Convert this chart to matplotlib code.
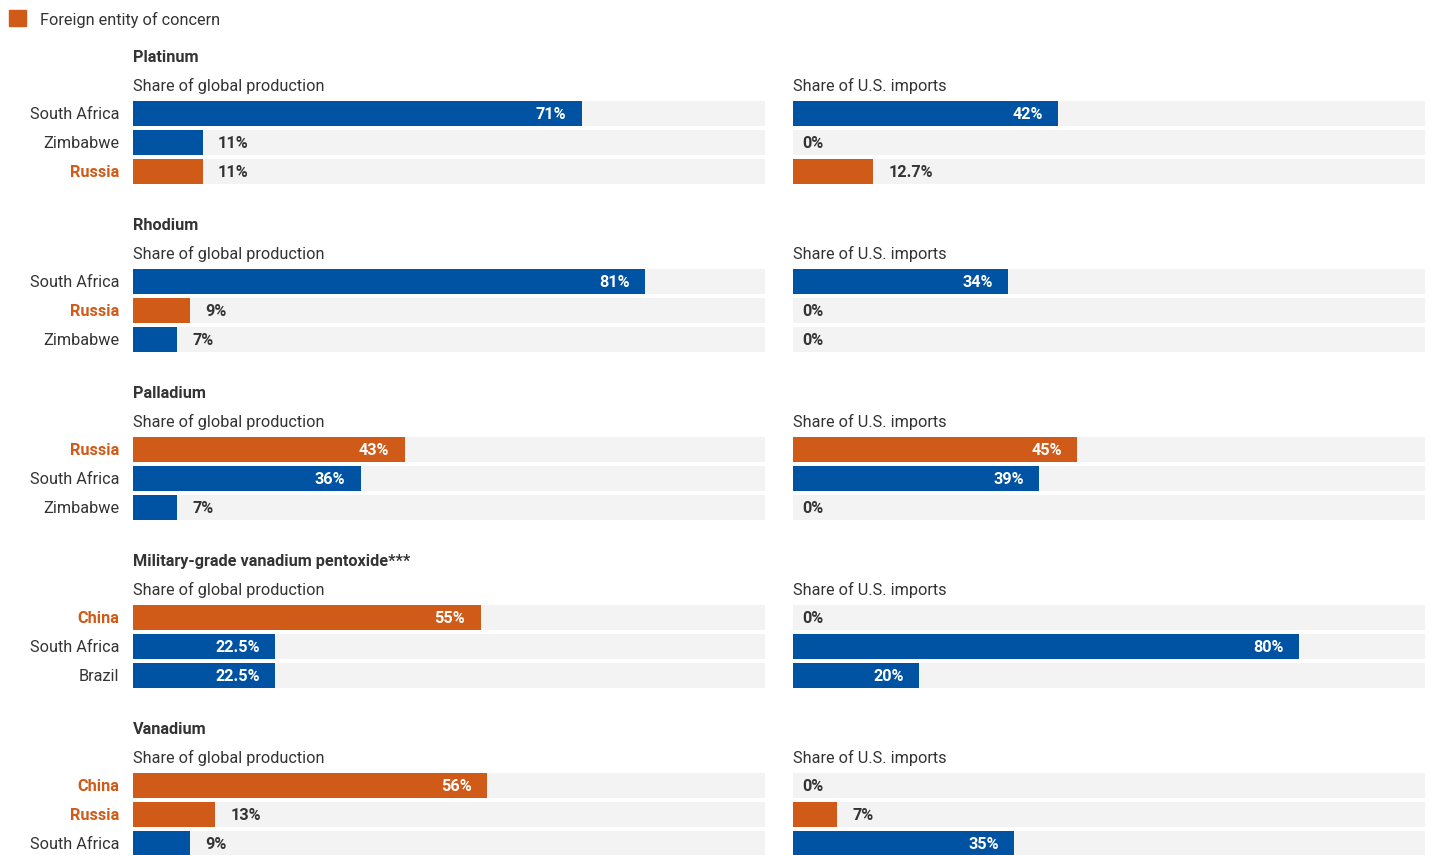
import matplotlib.pyplot as plt
from matplotlib.patches import Rectangle

plt.rcParams['font.family'] = ['Roboto', 'DejaVu Sans']

BLUE = '#0052a3'
ORANGE = '#d05a18'
GRAY = '#f3f3f3'
TEXT = '#333333'
FS = 11.7

minerals = ['Platinum', 'Rhodium', 'Palladium',
            'Military-grade vanadium pentoxide***', 'Vanadium']
countries = [
    ['South Africa', 'Zimbabwe', 'Russia'],
    ['South Africa', 'Russia', 'Zimbabwe'],
    ['Russia', 'South Africa', 'Zimbabwe'],
    ['China', 'South Africa', 'Brazil'],
    ['China', 'Russia', 'South Africa'],
]
global_share = [
    [71, 11, 11],
    [81, 9, 7],
    [43, 36, 7],
    [55, 22.5, 22.5],
    [56, 13, 9],
]
import_share = [
    [42, 0, 12.7],
    [34, 0, 0],
    [45, 39, 0],
    [0, 80, 20],
    [0, 7, 35],
]
feoc = ['Russia', 'China']

W, H = 1430, 855
fig = plt.figure(figsize=(W / 100, H / 100), dpi=100)


def px_axes(x0, y0, w, h):
    return fig.add_axes([x0 / W, 1 - (y0 + h) / H, w / W, h / H])


def draw_panel(ax, names, vals):
    ax.set_xlim(0, 100)
    ax.set_ylim(2.5, -0.5)
    ax.axis('off')
    hgt = 25 / 29
    ys = range(len(vals))
    ax.barh(ys, [100] * len(vals), height=hgt, color=GRAY, zorder=1)
    cols = [ORANGE if n in feoc else BLUE for n in names]
    ax.barh(ys, vals, height=hgt, color=cols, zorder=2)
    for y, v in zip(ys, vals):
        lab = f'{v:g}%'
        if v >= 15:
            ax.annotate(lab, (v, y), xytext=(-11, -1), textcoords='offset points',
                        ha='right', va='center', color='white',
                        fontsize=FS, fontweight='bold', zorder=3)
        elif v == 0:
            ax.annotate(lab, (0, y), xytext=(7, -1), textcoords='offset points',
                        ha='left', va='center', color=TEXT,
                        fontsize=FS, fontweight='bold', zorder=3)
        else:
            ax.annotate(lab, (v, y), xytext=(11, -1), textcoords='offset points',
                        ha='left', va='center', color=TEXT,
                        fontsize=FS, fontweight='bold', zorder=3)


# legend
fig.patches.append(Rectangle((9 / W, 1 - 26 / H), 17 / W, 16 / H,
                             transform=fig.transFigure, color=ORANGE))
fig.text(40 / W, 1 - 19.5 / H, 'Foreign entity of concern', ha='left', va='center',
         fontsize=FS, color=TEXT)

for g in range(len(minerals)):
    top = 99 + 168 * g
    fig.text(133 / W, 1 - (57.5 + 168 * g) / H, minerals[g], ha='left', va='center',
             fontsize=FS, fontweight='bold', color=TEXT)
    fig.text(133 / W, 1 - (85.5 + 168 * g) / H, 'Share of global production',
             ha='left', va='center', fontsize=FS, color=TEXT)
    fig.text(793 / W, 1 - (85.5 + 168 * g) / H, 'Share of U.S. imports',
             ha='left', va='center', fontsize=FS, color=TEXT)

    ax1 = px_axes(133, top, 632, 87)
    draw_panel(ax1, countries[g], global_share[g])
    ax2 = px_axes(793, top, 632, 87)
    draw_panel(ax2, countries[g], import_share[g])

    for i, name in enumerate(countries[g]):
        is_f = name in feoc
        ax1.annotate(name, (0, i), xytext=(-10, -1), textcoords='offset points',
                     ha='right', va='center', fontsize=FS,
                     color=ORANGE if is_f else TEXT,
                     fontweight='bold' if is_f else 'normal',
                     annotation_clip=False)

fig.savefig('out.png', dpi=100)
